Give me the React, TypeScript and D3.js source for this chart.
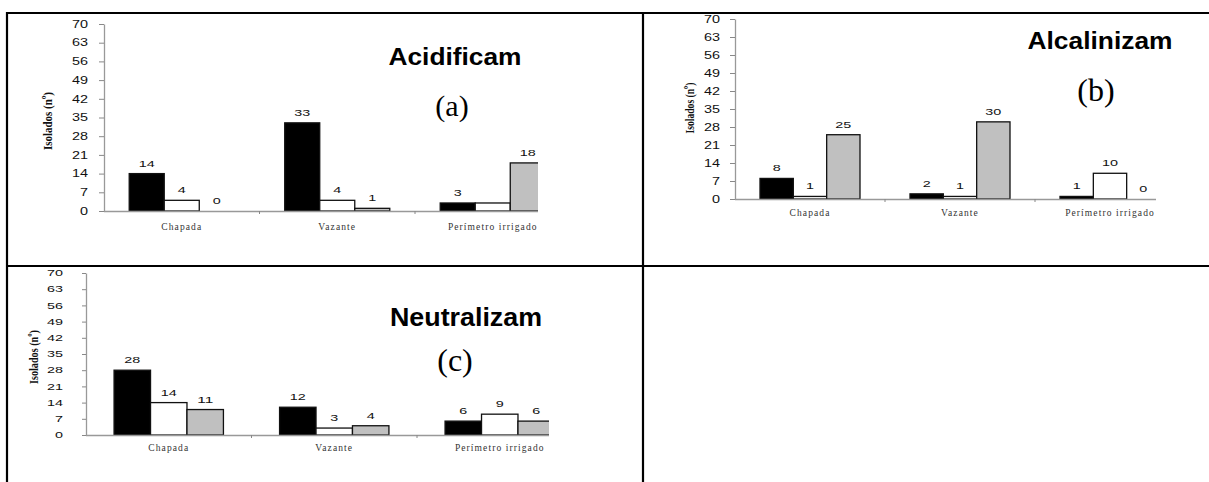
import React, { useEffect, useRef } from "react";
import * as d3 from "d3";

// tick labels and categories
const categories = ["Chapada", "Vazante", "Perímetro irrigado"];
const seriesKeys = ["preto", "branco", "cinza"];
const yTicks = [0, 7, 14, 21, 28, 35, 42, 49, 56, 63, 70];

// values per category: [preto, branco, cinza]
const acidificam = [
  [14, 4, 0],
  [33, 4, 1],
  [3, 3, 18],
];
const alcalinizam = [
  [8, 1, 25],
  [2, 1, 30],
  [1, 10, 0],
];
const neutralizam = [
  [28, 14, 11],
  [12, 3, 4],
  [6, 9, 6],
];

const fills: Record<string, string> = { preto: "#000", branco: "#fff", cinza: "#c0c0c0" };

// layout of the three panels (positions only)
const panels = [
  {
    id: "a", title: "Acidificam", tag: "(a)", data: acidificam, hidden: ["2-1"],
    x0: 104, step: 155.5, clipX: 538, yBottom: 211, yTop: 24, pad: 0.72,
    titleX: 455, titleY: 65, titleSize: 23, titleLen: 133,
    tagX: 452, tagY: 115.5, tagSize: 30,
    ylabX: 52, ylabY: 121, ylabLen: 58,
    tickPad: 11, tickSize: 5, tickFont: 10, xlabDy: 19,
  },
  {
    id: "b", title: "Alcalinizam", tag: "(b)", data: alcalinizam, hidden: [],
    x0: 735, step: 150, clipX: 1156, yBottom: 199, yTop: 19, pad: 0.75,
    titleX: 1100, titleY: 49, titleSize: 23, titleLen: 145,
    tagX: 1096, tagY: 101, tagSize: 32,
    ylabX: 694, ylabY: 108, ylabLen: 51,
    tickPad: 10, tickSize: 5, tickFont: 10, xlabDy: 17,
  },
  {
    id: "c", title: "Neutralizam", tag: "(c)", data: neutralizam, hidden: [],
    x0: 86, step: 165.5, clipX: 549, yBottom: 435, yTop: 273, pad: 0.77,
    titleX: 466, titleY: 326, titleSize: 26, titleLen: 152,
    tagX: 455, tagY: 371, tagSize: 32,
    ylabX: 38, ylabY: 357, ylabLen: 54,
    tickPad: 19, tickSize: 4, tickFont: 8.5, xlabDy: 16,
  },
];

const W = 1209;
const H = 482;

function App() {
  const ref = useRef<SVGSVGElement>(null);

  useEffect(() => {
    if (!ref.current) return;
    const svg = d3.select(ref.current);
    svg.selectAll("*").remove();

    // table borders
    const borders = svg.append("g").attr("stroke", "#000").attr("stroke-width", 2.2);
    borders.append("line").attr("x1", 6).attr("x2", W).attr("y1", 13).attr("y2", 13);
    borders.append("line").attr("x1", 7).attr("x2", 7).attr("y1", 12).attr("y2", H);
    borders.append("line").attr("x1", 643).attr("x2", 643).attr("y1", 12).attr("y2", H);
    borders.append("line").attr("x1", 6).attr("x2", W).attr("y1", 266).attr("y2", 266);

    panels.forEach((p) => {
      const g = svg.append("g");
      const x = d3
        .scaleBand()
        .domain(categories)
        .range([p.x0, p.x0 + p.step * categories.length])
        .padding(0);
      const xs = d3
        .scaleBand()
        .domain(seriesKeys)
        .range([0, x.bandwidth()])
        .paddingInner(0)
        .paddingOuter(p.pad);
      const y = d3.scaleLinear().domain([0, 70]).range([p.yBottom, p.yTop]);

      svg
        .append("clipPath")
        .attr("id", "clip-" + p.id)
        .append("rect")
        .attr("x", p.x0)
        .attr("y", 0)
        .attr("width", p.clipX - p.x0)
        .attr("height", H);

      const plot = g.append("g").attr("clip-path", `url(#clip-${p.id})`);

      // bars
      const cells = p.data.flatMap((vals, ci) =>
        vals.map((v, si) => ({ cat: categories[ci], key: seriesKeys[si], v, ci, si }))
      );
      plot
        .selectAll("rect.bar")
        .data(cells)
        .enter()
        .append("rect")
        .attr("class", "bar")
        .attr("x", (d) => (x(d.cat) as number) + (xs(d.key) as number))
        .attr("y", (d) => y(d.v))
        .attr("width", xs.bandwidth())
        .attr("height", (d) => y(0) - y(d.v))
        .attr("fill", (d) => fills[d.key])
        .attr("stroke", "#111")
        .attr("stroke-width", (d) => (d.v > 0 ? 1.3 : 0));

      // x axis line and boundary ticks
      plot
        .append("line")
        .attr("x1", p.x0)
        .attr("x2", p.clipX)
        .attr("y1", y(0) + 0.5)
        .attr("y2", y(0) + 0.5)
        .attr("stroke", "#999")
        .attr("stroke-width", 1.3);
      plot
        .selectAll("line.xt")
        .data(categories.slice(1))
        .enter()
        .append("line")
        .attr("x1", (d) => x(d) as number)
        .attr("x2", (d) => x(d) as number)
        .attr("y1", y(0))
        .attr("y2", y(0) + 3)
        .attr("stroke", "#888");

      // value labels
      plot
        .selectAll("text.val")
        .data(cells.filter((d) => !p.hidden.includes(`${d.ci}-${d.si}`)))
        .enter()
        .append("text")
        .attr("class", "val")
        .attr("x", (d) => (x(d.cat) as number) + (xs(d.key) as number) + xs.bandwidth() / 2)
        .attr("y", (d) => y(d.v) - 7)
        .attr("text-anchor", "middle")
        .attr("font-family", "Liberation Sans, Arial, sans-serif")
        .attr("font-size", 9)
        .attr("textLength", (d) => String(d.v).length * 8)
        .attr("lengthAdjust", "spacingAndGlyphs")
        .attr("fill", "#111")
        .text((d) => d.v);

      // category labels
      g.selectAll("text.cat")
        .data(categories)
        .enter()
        .append("text")
        .attr("class", "cat")
        .attr("x", (d) => (x(d) as number) + x.bandwidth() / 2)
        .attr("y", y(0) + p.xlabDy)
        .attr("text-anchor", "middle")
        .attr("font-family", "Liberation Serif, Times New Roman, serif")
        .attr("font-size", 9.5)
        .attr("letter-spacing", 1.1)
        .attr("fill", "#333")
        .text((d) => d);

      // y axis
      const yAxis = g
        .append("g")
        .attr("transform", `translate(${p.x0},0)`)
        .call(
          d3
            .axisLeft(y)
            .tickValues(yTicks)
            .tickSize(p.tickSize)
            .tickPadding(p.tickPad)
            .tickSizeOuter(0)
        );
      yAxis.select(".domain").attr("stroke", "#999").attr("stroke-width", 1.3);
      yAxis.selectAll(".tick line").attr("stroke", "#888");
      yAxis
        .selectAll(".tick text")
        .attr("font-family", "Liberation Sans, Arial, sans-serif")
        .attr("font-size", p.tickFont)
        .attr("fill", "#111")
        .attr("textLength", (d: any) => String(d).length * 8)
        .attr("lengthAdjust", "spacingAndGlyphs");

      // y axis title
      g.append("text")
        .attr("transform", `translate(${p.ylabX},${p.ylabY}) rotate(-90)`)
        .attr("text-anchor", "middle")
        .attr("font-family", "Liberation Serif, Times New Roman, serif")
        .attr("font-weight", "bold")
        .attr("font-size", 13.5)
        .attr("textLength", p.ylabLen)
        .attr("lengthAdjust", "spacingAndGlyphs")
        .attr("fill", "#111")
        .text("Isolados (nº)");

      // panel title and tag
      g.append("text")
        .attr("x", p.titleX)
        .attr("y", p.titleY)
        .attr("text-anchor", "middle")
        .attr("font-family", "Liberation Sans, Arial, sans-serif")
        .attr("font-weight", "bold")
        .attr("font-size", p.titleSize)
        .attr("textLength", p.titleLen)
        .attr("lengthAdjust", "spacingAndGlyphs")
        .attr("fill", "#000")
        .text(p.title);
      g.append("text")
        .attr("x", p.tagX)
        .attr("y", p.tagY)
        .attr("text-anchor", "middle")
        .attr("font-family", "Liberation Serif, Times New Roman, serif")
        .attr("font-size", p.tagSize)
        .attr("fill", "#000")
        .text(p.tag);
    });
  }, []);

  return (
    <svg
      ref={ref}
      width={W}
      height={H}
      style={{ position: "absolute", left: 0, top: 0, background: "#fff" }}
    />
  );
}

export default App;
